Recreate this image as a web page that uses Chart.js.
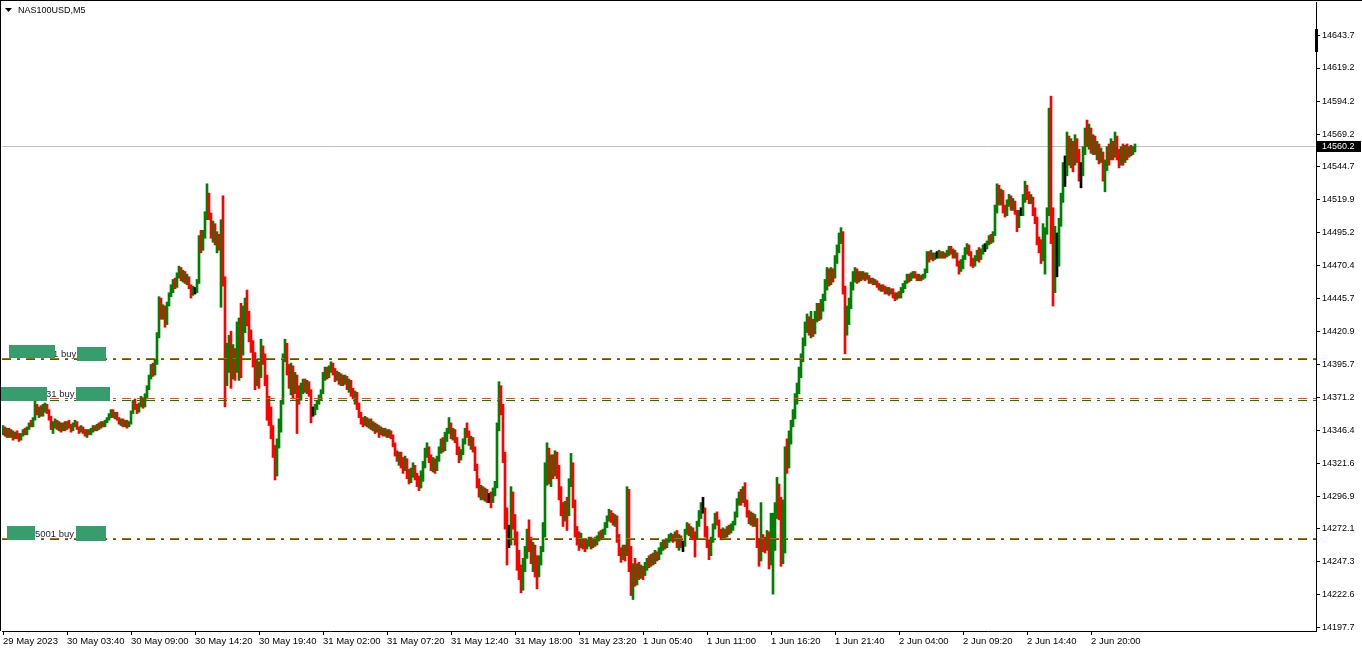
<!DOCTYPE html>
<html>
<head>
<meta charset="utf-8">
<title>NAS100USD,M5</title>
<script src="https://cdn.jsdelivr.net/npm/chart.js@4.4.0/dist/chart.umd.min.js"></script>
<style>
  html, body { margin: 0; padding: 0; background: #fff; }
  #chart { display: block; }
</style>
</head>
<body>
<canvas id="chart" width="1362" height="652"></canvas>
<script>
// NAS100USD M5, one entry per 10 minutes (two M5 bars)
const symbolTitle = "NAS100USD,M5";
const firstOpen = 14346;

const closes = [
  14348,14344,14346,14343,14345,14341,14344,14342,14340,14343, // 0
  14346,14344,14348,14351,14350,14355,14364,14360,14363,14358, // 10
  14362,14365,14360,14356,14349,14351,14353,14349,14351,14347, // 20
  14350,14348,14352,14349,14347,14350,14352,14348,14346,14348, // 30
  14345,14343,14346,14344,14347,14349,14347,14350,14349,14352, // 40
  14350,14353,14355,14358,14361,14357,14359,14355,14352,14354, // 50
  14351,14353,14350,14352,14360,14367,14364,14361,14366,14370, // 60
  14365,14372,14378,14386,14394,14389,14398,14418,14440,14434, // 70
  14437,14428,14441,14448,14452,14458,14455,14463,14467,14462, // 80
  14464,14459,14461,14455,14450,14452,14452,14459,14490,14484, // 90
  14494,14507,14520,14508,14495,14500,14488,14492,14486,14500, // 100
  14462,14380,14395,14408,14390,14402,14396,14410,14418,14405, // 110
  14425,14440,14430,14418,14410,14398,14386,14394,14388,14410, // 120
  14400,14385,14370,14358,14348,14332,14318,14336,14352,14366, // 130
  14400,14408,14392,14384,14392,14380,14384,14376,14372,14378, // 140
  14383,14378,14381,14376,14360,14360,14364,14368,14371,14375, // 150
  14386,14392,14388,14393,14396,14391,14386,14389,14384,14387, // 160
  14383,14386,14380,14383,14377,14372,14374,14366,14358,14354, // 170
  14352,14355,14351,14353,14349,14351,14347,14349,14345,14347, // 180
  14344,14346,14343,14345,14342,14336,14330,14325,14328,14322, // 190
  14318,14324,14315,14310,14314,14318,14312,14308,14305,14313, // 200
  14320,14330,14333,14326,14320,14324,14318,14325,14331,14338, // 210
  14333,14342,14345,14350,14343,14346,14340,14332,14326,14330, // 220
  14338,14346,14344,14337,14340,14333,14320,14308,14300,14303, // 230
  14298,14301,14296,14296,14293,14300,14306,14350,14376,14365, // 240
  14330,14285,14262,14262,14290,14280,14265,14254,14240,14230, // 250
  14245,14255,14268,14262,14250,14258,14244,14238,14248,14256, // 260
  14270,14310,14325,14312,14322,14314,14326,14318,14300,14288, // 270
  14280,14290,14284,14306,14320,14294,14272,14266,14260,14264, // 280
  14261,14258,14262,14265,14260,14263,14261,14265,14268,14266, // 290
  14270,14275,14280,14284,14281,14278,14281,14266,14255,14250, // 300
  14256,14253,14300,14258,14235,14240,14232,14243,14238,14242, // 310
  14239,14244,14248,14245,14251,14247,14253,14250,14255,14258, // 320
  14262,14259,14263,14265,14267,14264,14268,14262,14266,14260, // 330
  14260,14270,14275,14270,14272,14268,14265,14276,14284,14288, // 340
  14288,14272,14262,14253,14264,14274,14282,14278,14270,14266, // 350
  14270,14268,14272,14270,14274,14276,14283,14292,14298,14294, // 360
  14300,14292,14284,14280,14283,14277,14280,14262,14250,14268, // 370
  14262,14258,14265,14250,14270,14276,14285,14296,14285,14250, // 380
  14290,14330,14322,14340,14350,14358,14368,14378,14388,14400, // 390
  14412,14425,14430,14422,14428,14420,14432,14438,14432,14440, // 400
  14446,14456,14465,14458,14466,14462,14474,14482,14490,14495, // 410
  14455,14420,14432,14440,14455,14462,14466,14460,14463,14461, // 420
  14464,14461,14463,14459,14460,14458,14459,14456,14454,14455, // 430
  14453,14451,14452,14450,14452,14448,14446,14449,14447,14452, // 440
  14455,14458,14462,14460,14463,14465,14462,14460,14462,14460, // 450
  14462,14466,14478,14476,14479,14476,14478,14478,14480,14477, // 460
  14479,14478,14480,14483,14481,14478,14480,14472,14468,14472, // 470
  14476,14482,14486,14480,14474,14471,14476,14480,14476,14481, // 480
  14484,14484,14487,14491,14489,14494,14512,14527,14520,14526, // 490
  14514,14510,14518,14522,14516,14518,14512,14500,14510,14510, // 500
  14520,14530,14524,14520,14522,14512,14506,14490,14488,14476, // 510
  14486,14495,14510,14585,14492,14460,14476,14476,14505,14520, // 520
  14540,14540,14565,14552,14560,14548,14562,14555,14540,14540, // 530
  14556,14570,14566,14572,14560,14566,14556,14562,14552,14556, // 540
  14540,14546,14558,14552,14562,14555,14566,14556,14548,14556, // 550
  14552,14559,14553,14558,14555,14558,14560.2                  // 560
];

const highs = [
  14350,14349,14348,14348,14347,14346,14345,14346,14344,14344, // 0
  14347,14348,14349,14352,14354,14356,14369,14366,14364,14365, // 10
  14366,14367,14366,14362,14357,14353,14355,14354,14353,14352, // 20
  14352,14353,14353,14354,14351,14352,14354,14353,14349,14350, // 30
  14349,14347,14347,14347,14348,14350,14350,14351,14352,14353, // 40
  14353,14354,14356,14359,14362,14362,14360,14360,14356,14355, // 50
  14355,14354,14354,14353,14361,14369,14370,14366,14367,14372, // 60
  14371,14374,14380,14388,14396,14397,14400,14420,14447,14446, // 70
  14441,14440,14443,14450,14456,14460,14461,14465,14470,14469, // 80
  14467,14466,14464,14462,14456,14455,14454,14460,14493,14497, // 90
  14497,14511,14532,14525,14510,14504,14502,14496,14494,14505, // 100
  14523,14462,14412,14418,14421,14411,14408,14428,14431,14442, // 110
  14440,14446,14452,14436,14422,14414,14405,14400,14398,14415, // 120
  14410,14404,14388,14372,14364,14350,14335,14340,14355,14369, // 130
  14404,14415,14412,14396,14397,14395,14390,14388,14380,14382, // 140
  14385,14385,14384,14383,14377,14364,14366,14369,14373,14377, // 150
  14390,14394,14394,14395,14398,14397,14393,14391,14390,14389, // 160
  14388,14388,14387,14385,14384,14378,14376,14375,14367,14360, // 170
  14356,14357,14356,14355,14355,14353,14352,14351,14350,14349, // 180
  14348,14348,14347,14347,14346,14343,14337,14331,14330,14330, // 190
  14326,14327,14325,14317,14318,14322,14320,14314,14312,14316, // 200
  14323,14333,14337,14334,14328,14326,14325,14327,14334,14340, // 210
  14341,14345,14348,14356,14352,14348,14347,14341,14334,14332, // 220
  14340,14348,14352,14346,14342,14341,14334,14321,14310,14305, // 230
  14304,14303,14302,14299,14300,14303,14308,14352,14383,14380, // 240
  14366,14330,14288,14275,14304,14300,14283,14270,14256,14245, // 250
  14250,14259,14272,14279,14266,14262,14260,14252,14252,14259, // 260
  14277,14322,14337,14333,14328,14328,14331,14330,14320,14304, // 270
  14292,14293,14296,14310,14329,14322,14294,14274,14270,14269, // 280
  14265,14264,14264,14266,14266,14265,14266,14267,14270,14271, // 290
  14272,14277,14282,14287,14286,14284,14283,14282,14268,14258, // 300
  14260,14260,14304,14302,14259,14246,14250,14246,14247,14245, // 310
  14244,14247,14250,14252,14253,14254,14256,14255,14258,14262, // 320
  14264,14264,14265,14268,14269,14268,14270,14271,14268,14267, // 330
  14263,14272,14277,14276,14274,14273,14270,14278,14286,14292, // 340
  14296,14288,14274,14264,14266,14276,14284,14285,14279,14272, // 350
  14273,14272,14274,14275,14276,14278,14285,14295,14300,14302, // 360
  14304,14307,14294,14286,14285,14284,14283,14280,14265,14292, // 370
  14268,14266,14271,14270,14284,14284,14292,14311,14306,14296, // 380
  14294,14334,14340,14346,14354,14362,14374,14382,14394,14404, // 390
  14416,14428,14434,14432,14436,14430,14436,14442,14442,14445, // 400
  14449,14460,14469,14468,14469,14468,14478,14486,14495,14499, // 410
  14496,14455,14440,14446,14458,14466,14469,14468,14466,14466, // 420
  14466,14465,14465,14463,14461,14461,14460,14459,14457,14456, // 430
  14456,14455,14454,14454,14453,14453,14450,14450,14451,14454, // 440
  14457,14459,14464,14464,14465,14466,14466,14464,14464,14463, // 450
  14464,14468,14481,14481,14482,14480,14480,14481,14482,14481, // 460
  14481,14480,14482,14485,14485,14483,14482,14480,14474,14475, // 470
  14478,14484,14487,14486,14481,14476,14478,14482,14484,14483, // 480
  14486,14487,14489,14493,14494,14496,14516,14532,14531,14528, // 490
  14527,14516,14520,14524,14523,14521,14519,14512,14512,14514, // 500
  14524,14534,14531,14526,14524,14522,14514,14507,14492,14490, // 510
  14502,14499,14514,14589,14598,14514,14500,14495,14506,14525, // 520
  14548,14553,14571,14568,14566,14564,14569,14566,14558,14548, // 530
  14560,14574,14580,14577,14574,14569,14568,14564,14562,14559, // 540
  14556,14550,14560,14562,14566,14564,14571,14568,14558,14560, // 550
  14562,14561,14562,14560,14561,14560,14562                    // 560
];

const lows = [
  14343,14342,14341,14341,14341,14339,14340,14340,14338,14339, // 0
  14342,14343,14343,14347,14349,14349,14354,14358,14356,14357, // 10
  14357,14360,14359,14354,14347,14344,14348,14347,14346,14345, // 20
  14346,14346,14347,14348,14345,14346,14349,14347,14344,14345, // 30
  14344,14342,14341,14343,14343,14345,14346,14346,14347,14348, // 40
  14349,14349,14352,14354,14356,14356,14355,14354,14351,14350, // 50
  14349,14349,14348,14349,14351,14359,14362,14359,14360,14364, // 60
  14363,14364,14370,14377,14385,14387,14388,14396,14416,14430, // 70
  14430,14424,14426,14440,14447,14450,14453,14454,14461,14459, // 80
  14458,14457,14456,14453,14446,14448,14449,14450,14457,14480, // 90
  14482,14491,14505,14505,14491,14488,14486,14480,14482,14439, // 100
  14455,14364,14380,14390,14378,14385,14384,14390,14384,14386, // 110
  14403,14420,14425,14413,14405,14394,14377,14380,14378,14386, // 120
  14396,14380,14354,14350,14340,14326,14309,14312,14333,14345, // 130
  14366,14398,14388,14378,14373,14370,14374,14344,14366,14369, // 140
  14374,14375,14374,14372,14352,14357,14358,14362,14366,14369, // 150
  14374,14384,14385,14386,14390,14388,14383,14384,14381,14380, // 160
  14380,14381,14377,14375,14372,14370,14366,14362,14356,14351, // 170
  14349,14350,14349,14348,14347,14346,14344,14345,14341,14343, // 180
  14342,14342,14341,14341,14340,14334,14327,14323,14320,14318, // 190
  14314,14316,14310,14306,14307,14311,14309,14304,14301,14303, // 200
  14308,14318,14326,14322,14316,14315,14314,14316,14323,14329, // 210
  14330,14331,14338,14344,14340,14339,14337,14328,14322,14324, // 220
  14328,14336,14341,14335,14332,14330,14316,14303,14296,14294, // 230
  14294,14293,14292,14292,14288,14292,14297,14303,14346,14358, // 240
  14322,14272,14245,14258,14260,14272,14260,14241,14234,14224, // 250
  14226,14240,14250,14255,14246,14240,14236,14227,14236,14245, // 260
  14255,14266,14305,14306,14304,14310,14312,14310,14294,14282, // 270
  14274,14278,14271,14282,14304,14288,14266,14260,14256,14258, // 280
  14257,14255,14257,14259,14257,14258,14259,14260,14263,14264, // 290
  14265,14268,14273,14278,14277,14275,14274,14262,14252,14247, // 300
  14249,14248,14252,14240,14222,14219,14229,14230,14234,14235, // 310
  14234,14237,14241,14243,14244,14245,14246,14248,14249,14253, // 320
  14256,14257,14258,14262,14263,14262,14263,14258,14256,14258, // 330
  14255,14259,14268,14267,14265,14264,14251,14264,14274,14280, // 340
  14284,14266,14258,14249,14252,14262,14272,14275,14266,14264, // 350
  14264,14265,14266,14268,14269,14271,14275,14281,14290,14290, // 360
  14292,14289,14281,14276,14275,14274,14274,14258,14244,14248, // 370
  14255,14254,14256,14242,14245,14223,14256,14280,14279,14244, // 380
  14246,14254,14314,14318,14336,14349,14355,14366,14374,14386, // 390
  14398,14410,14420,14418,14416,14417,14419,14428,14429,14430, // 400
  14436,14444,14452,14455,14456,14458,14461,14472,14480,14487, // 410
  14449,14404,14418,14426,14438,14452,14458,14457,14458,14459, // 420
  14460,14459,14460,14457,14457,14456,14456,14454,14452,14451, // 430
  14451,14449,14449,14448,14449,14446,14444,14445,14446,14446, // 440
  14450,14453,14457,14458,14459,14461,14461,14459,14459,14459, // 450
  14460,14461,14465,14473,14475,14474,14475,14476,14476,14476, // 460
  14476,14476,14477,14478,14479,14476,14476,14470,14464,14466, // 470
  14468,14475,14479,14478,14470,14469,14470,14474,14473,14475, // 480
  14479,14481,14483,14486,14487,14488,14493,14510,14516,14516, // 490
  14510,14507,14508,14515,14512,14512,14509,14496,14499,14508, // 500
  14508,14518,14520,14517,14517,14508,14502,14486,14480,14472, // 510
  14474,14464,14494,14508,14487,14440,14450,14462,14470,14500, // 520
  14518,14530,14538,14546,14544,14541,14546,14548,14534,14529, // 530
  14538,14554,14560,14558,14555,14554,14554,14550,14547,14548, // 540
  14534,14526,14542,14546,14550,14550,14552,14550,14544,14546, // 550
  14546,14548,14550,14552,14553,14554,14556                    // 560
];

const timeLabels = [
  "29 May 2023", "30 May 03:40", "30 May 09:00", "30 May 14:20", "30 May 19:40",
  "31 May 02:00", "31 May 07:20", "31 May 12:40", "31 May 18:00", "31 May 23:20",
  "1 Jun 05:40", "1 Jun 11:00", "1 Jun 16:20", "1 Jun 21:40", "2 Jun 04:00",
  "2 Jun 09:20", "2 Jun 14:40", "2 Jun 20:00"
];
const tickEvery = 32;     // 32 ten-minute slots between time labels
const slotCount = 657;    // slots that fit across the plot, incl. empty right margin

const priceTicks = [
  14643.7, 14619.2, 14594.2, 14569.2, 14544.7, 14519.9, 14495.2, 14470.4, 14445.7, 14420.9,
  14395.7, 14371.2, 14346.4, 14321.6, 14296.9, 14272.1, 14247.3, 14222.6, 14197.7
];
const priceMin = 14195.3;
const priceMax = 14668.9;

// order lines (dash-dot) and their tags
const levelPrices = [14400.5, 14399.7, 14370.3, 14368.8, 14264.9, 14264.2];
const levelColors = ["#ff4500", "#008000", "#ff4500", "#008000", "#ff4500", "#008000"];
const tagTexts = ["1 buy", "31 buy", "5001 buy"];
const tagPrices = [14400.5, 14370.3, 14264.9];

const lastPrice = closes[closes.length - 1];

const upColor = "#008000";
const downColor = "#ff0000";
const dojiColor = "#000000";
const tagGreen = "#389d6c";
const fontFamily = "'Liberation Sans', Arial, sans-serif";

// --- build candles ---
const opens = closes.map((c, i) => (i === 0 ? firstOpen : closes[i - 1]));
const candleRanges = closes.map((c, i) => [lows[i], highs[i]]);
const candleColors = closes.map((c, i) =>
  c > opens[i] ? upColor : c < opens[i] ? downColor : dojiColor
);
const slotLabels = Array.from({ length: slotCount }, (_, i) => i);

// tag boxes: x, width, top offset from line, height (pixels)
const tagLayout = [
  { a: [9, 46, -13, 13], b: [77, 29, -11, 14], tx: 53 },
  { a: [0, 47, -11, 14], b: [76, 34, -11, 14], tx: 46 },
  { a: [7, 28, -12, 14], b: [76, 30, -12, 15], tx: 35 }
];

const chartDecor = {
  id: "chartDecor",
  beforeDatasetsDraw(chart) {
    const { ctx, chartArea: a, scales } = chart;
    const py = Math.floor(scales.y.getPixelForValue(lastPrice)) + 0.5;
    ctx.save();
    ctx.strokeStyle = "#c0c0c0";
    ctx.lineWidth = 1;
    ctx.beginPath();
    ctx.moveTo(a.left, py);
    ctx.lineTo(a.right, py);
    ctx.stroke();
    ctx.restore();
  },
  afterDatasetsDraw(chart) {
    const { ctx, chartArea: a, scales } = chart;
    ctx.save();
    ctx.lineWidth = 1;
    ctx.setLineDash([9, 6, 3, 6]);
    levelPrices.forEach((p, i) => {
      const py = Math.floor(scales.y.getPixelForValue(p)) + 0.5;
      ctx.strokeStyle = levelColors[i];
      ctx.beginPath();
      ctx.moveTo(a.left, py);
      ctx.lineTo(a.right, py);
      ctx.stroke();
    });
    ctx.setLineDash([]);

    tagPrices.forEach((p, i) => {
      const ly = Math.floor(scales.y.getPixelForValue(p));
      const t = tagLayout[i];
      ctx.fillStyle = "#1c1c34";
      ctx.font = "9.5px " + fontFamily;
      ctx.textBaseline = "alphabetic";
      ctx.textAlign = "left";
      ctx.fillText(tagTexts[i], t.tx, ly - 1);
      ctx.fillStyle = tagGreen;
      ctx.fillRect(t.a[0], ly + t.a[2], t.a[1], t.a[3]);
      ctx.fillRect(t.b[0], ly + t.b[2], t.b[1], t.b[3]);
    });
    ctx.restore();
  },
  afterDraw(chart) {
    const { ctx, chartArea: a, scales } = chart;
    ctx.save();
    // window frame
    ctx.fillStyle = "#000";
    ctx.fillRect(0, 0, chart.width, 1);
    ctx.fillRect(0, 0, 1, a.bottom);
    // title
    ctx.beginPath();
    ctx.moveTo(5, 8);
    ctx.lineTo(12, 8);
    ctx.lineTo(8.5, 12);
    ctx.closePath();
    ctx.fill();
    ctx.font = "9px " + fontFamily;
    ctx.textBaseline = "middle";
    ctx.textAlign = "left";
    ctx.fillText(symbolTitle, 18, 10.5);
    // marker on the price scale
    ctx.fillRect(a.right - 1, 29, 3, 23);
    // current price tag
    const py = Math.floor(scales.y.getPixelForValue(lastPrice)) + 0.5;
    ctx.fillRect(a.right + 1, py - 5.5, 44, 11);
    ctx.fillStyle = "#fff";
    ctx.fillText(lastPrice.toFixed(1), a.right + 6, py + 0.5);
    ctx.restore();
  }
};

new Chart(document.getElementById("chart"), {
  type: "bar",
  data: {
    labels: slotLabels,
    datasets: [{
      data: candleRanges,
      backgroundColor: candleColors,
      borderWidth: 0,
      barThickness: 2,
      grouped: false
    }]
  },
  options: {
    responsive: false,
    maintainAspectRatio: false,
    animation: false,
    devicePixelRatio: 1,
    layout: { padding: { left: 2, top: 2, right: 0, bottom: 0 } },
    plugins: { legend: { display: false }, tooltip: { enabled: false } },
    scales: {
      x: {
        type: "category",
        offset: true,
        grid: { display: true, drawOnChartArea: false, drawTicks: true, tickLength: 4, color: "#000", offset: false },
        border: { display: true, color: "#000", width: 1 },
        ticks: {
          autoSkip: false, maxRotation: 0, minRotation: 0, align: "start", padding: 1,
          color: "#000", font: { family: fontFamily, size: 9.5 },
          callback: (v, i) => timeLabels[i]
        },
        afterBuildTicks: (axis) => {
          axis.ticks = timeLabels.map((_, i) => ({ value: i * tickEvery }));
        },
        afterFit: (axis) => {
          axis.height = 21;
          axis.paddingLeft = 0;
          axis.paddingRight = 0;
        }
      },
      y: {
        type: "linear",
        position: "right",
        min: priceMin,
        max: priceMax,
        grid: { display: true, drawOnChartArea: false, drawTicks: true, tickLength: 4, color: "#000" },
        border: { display: true, color: "#000", width: 1 },
        ticks: {
          padding: 2, color: "#000", font: { family: fontFamily, size: 9 },
          callback: (v) => Number(v).toFixed(1)
        },
        afterBuildTicks: (axis) => {
          axis.ticks = priceTicks.map((v) => ({ value: v }));
        },
        afterFit: (axis) => {
          axis.width = 46;
          axis.paddingTop = 0;
          axis.paddingBottom = 0;
        }
      }
    }
  },
  plugins: [chartDecor]
});
</script>
</body>
</html>
